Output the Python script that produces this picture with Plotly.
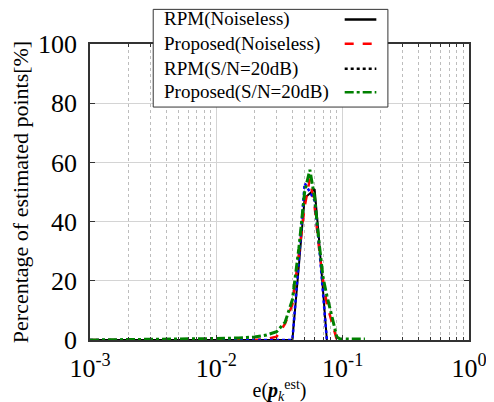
import plotly.graph_objects as go

# error bins (e(p_k^est)) and percentage of estimated points
err = [0.001, 0.005, 0.01, 0.015, 0.02, 0.025, 0.03, 0.035, 0.04, 0.045,
       0.05, 0.055, 0.06, 0.065, 0.07, 0.075, 0.08, 0.085, 0.09, 0.095,
       0.1, 0.11, 0.12, 0.13, 0.14, 0.15]

rpm_clean = [0, 0, 0, 0, 0, 0, 0, 0, 0, 25, 48, 49.5, 51, 34, 17, 0]
prop_clean = [0, 0, 0, 0, 0, 0.3, 1.1, 5.5, 12, 29, 45, 54.5, 45, 31, 20, 12, 7.5, 3.5, 0]
rpm_noisy = [0, 0, 0, 0, 0, 0, 0, 0, 0, 27, 53, 50, 47, 32, 15, 0]
prop_noisy = [0, 0.2, 0.5, 0.7, 1, 1.7, 2.8, 6, 13.6, 31, 50, 57.5, 48, 33, 21, 15,
              10, 5, 1, 0.4, 0.3, 0.3, 0.3, 0.3, 0.3, 0.3]

x_tickvals = [0.001, 0.01, 0.1, 1]
x_ticktext = ["10<sup>-3</sup>", "10<sup>-2</sup>", "10<sup>-1</sup>", "10<sup>0</sup>"]

names = ["RPM(Noiseless)", "Proposed(Noiseless)", "RPM(S/N=20dB)", "Proposed(S/N=20dB)"]
series = [rpm_clean, prop_clean, rpm_noisy, prop_noisy]
colors = ["black", "#ff0000", "#0000ff", "#008000"]
legend_colors = ["black", "#ff0000", "black", "#008000"]
dashes = ["solid", "dash", "dot", "dashdot"]
widths = [2, 2.5, 2.5, 3]

FONT = "Liberation Serif, DejaVu Serif, serif"

fig = go.Figure()
for name, ys, c, d, w in zip(names, series, colors, dashes, widths):
    fig.add_trace(go.Scatter(x=err[:len(ys)], y=ys, mode="lines", name=name,
                             line=dict(color=c, dash=d, width=w), showlegend=False))

# legend built by hand: text on the left, line sample on the right
fig.add_shape(type="rect", xref="paper", yref="paper", x0=0.1668, x1=0.786, y0=0.787, y1=1.117,
              line=dict(color="#333333", width=1), fillcolor="white", layer="above")
row_y = [1.083, 1.0007, 0.9164, 0.8374]
for name, c, d, yy in zip(names, legend_colors, dashes, row_y):
    fig.add_annotation(xref="paper", yref="paper", x=0.19, y=yy, text=name, showarrow=False,
                       xanchor="left", yanchor="middle", font=dict(size=19, color="black"))
    fig.add_shape(type="line", xref="paper", yref="paper", x0=0.672, x1=0.7555, y0=yy, y1=yy,
                  line=dict(color=c, dash=d, width=2.5), layer="above")

# the page body has an 8px margin, so margins are shifted to compensate
fig.update_layout(
    width=494, height=402,
    margin=dict(l=82, r=32.5, t=35.5, b=70, autoexpand=False),
    paper_bgcolor="white", plot_bgcolor="white",
    font=dict(family=FONT, size=26, color="black"),
)
fig.update_xaxes(
    type="log", range=[-3, 0], tickvals=x_tickvals, ticktext=x_ticktext,
    showline=True, mirror="ticks", linecolor="#333333", linewidth=1.5,
    ticks="inside", ticklen=5, tickcolor="#333333",
    showgrid=True, gridcolor="#d4d4d4", gridwidth=1,
    minor=dict(dtick="D1", ticks="inside", ticklen=3, tickcolor="#333333", showgrid=True,
               gridcolor="#bdbdbd", griddash="dot", gridwidth=1),
    ticklabelstandoff=4, automargin=False,
    title=dict(text="e(<b><i>p</i></b><sub><i>k</i></sub><sup>est</sup>)",
               font=dict(size=20), standoff=1),
    zeroline=False,
)
fig.update_yaxes(
    range=[0, 100], dtick=20,
    showline=True, mirror="ticks", linecolor="#333333", linewidth=1.5,
    ticks="inside", ticklen=5, tickcolor="#333333",
    showgrid=True, gridcolor="#d4d4d4", gridwidth=1,
    ticklabelstandoff=6, automargin=False,
    title=dict(text="Percentage of estimated points[%]", font=dict(size=22), standoff=8),
    zeroline=False,
)

fig.write_html("out.html")
